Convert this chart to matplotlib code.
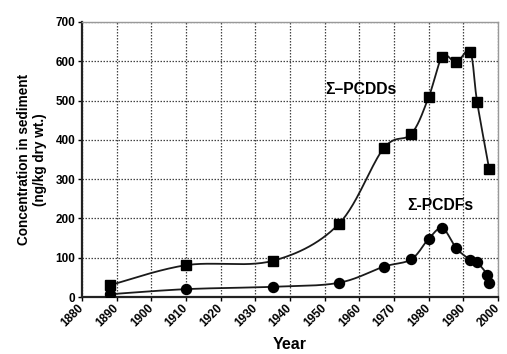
import matplotlib
matplotlib.use('Agg')
import matplotlib.pyplot as plt
import numpy as np

# Data
pcdd_years = [1888, 1910, 1935, 1954, 1967, 1975, 1980, 1984, 1988, 1992, 1994, 1997.5]
pcdd_vals = [30, 81, 92, 185, 378, 415, 508, 612, 597, 624, 497, 325]

pcdf_years = [1888, 1910, 1935, 1954, 1967, 1975, 1980, 1984, 1988, 1992, 1994, 1997, 1997.5]
pcdf_vals = [7, 20, 26, 36, 77, 96, 148, 175, 124, 95, 88, 56, 35]

x_ticks = list(range(1880, 2001, 10))
y_ticks = list(range(0, 701, 100))


def smooth(xs, ys, sx, sy, n=30):
    # Excel-like smoothed line (Catmull-Rom as cubic Bezier), computed in pixel-ish units
    px = np.asarray(xs, float) * sx
    py = np.asarray(ys, float) * sy
    pts = np.column_stack([px, py])
    out = [pts[0]]
    t = np.linspace(0, 1, n)[1:]
    for i in range(len(pts) - 1):
        p0 = pts[i - 1] if i > 0 else pts[i]
        p1 = pts[i]
        p2 = pts[i + 1]
        p3 = pts[i + 2] if i + 2 < len(pts) else pts[i + 1]
        c1 = p1 + (p2 - p0) / 6.0
        c2 = p2 - (p3 - p1) / 6.0
        seg = ((1 - t) ** 3)[:, None] * p1 + (3 * (1 - t) ** 2 * t)[:, None] * c1 \
            + (3 * (1 - t) * t ** 2)[:, None] * c2 + (t ** 3)[:, None] * p2
        out.extend(seg)
    out = np.array(out)
    return out[:, 0] / sx, out[:, 1] / sy


plt.rcParams['font.family'] = ['Liberation Sans', 'DejaVu Sans']
plt.rcParams['font.weight'] = 'bold'

fig = plt.figure(figsize=(5.07, 3.54), dpi=100)
fig.patch.set_facecolor('white')
ax = fig.add_axes([0.162, 0.161, 0.82, 0.777])

sx = 416 / 120.0
sy = 275 / 700.0

lx, ly = smooth(pcdd_years, pcdd_vals, sx, sy)
ax.plot(lx, ly, color='#1a1a1a', lw=1.3, zorder=3)
ax.plot(pcdd_years, pcdd_vals, ls='none', marker='s', ms=7.2, color='black', zorder=4)

lx, ly = smooth(pcdf_years, pcdf_vals, sx, sy)
ax.plot(lx, ly, color='#1a1a1a', lw=1.3, zorder=3)
ax.plot(pcdf_years, pcdf_vals, ls='none', marker='o', ms=7.2, color='black', zorder=4)

ax.set_xlim(1880, 2000)
ax.set_ylim(0, 700)
ax.set_xticks(x_ticks)
ax.set_yticks(y_ticks)
ax.grid(True, ls=(0, (1.2, 1.2)), color='#444444', lw=0.9)
ax.set_axisbelow(True)

ax.tick_params(axis='both', labelsize=8.5, length=3, width=1, pad=2)
ax.tick_params(axis='x', pad=4)
for lab in ax.get_xticklabels():
    lab.set_rotation(45)
    lab.set_ha('right')
    lab.set_va('center')
    lab.set_rotation_mode('anchor')
    lab.set_fontweight('bold')
for lab in ax.get_yticklabels():
    lab.set_fontweight('bold')

for side in ['left', 'bottom']:
    ax.spines[side].set_linewidth(1.6)
    ax.spines[side].set_color('#222222')
for side in ['top', 'right']:
    ax.spines[side].set_linewidth(1.0)
    ax.spines[side].set_color('#999999')

ax.set_ylabel('Concentration in sediment\n(ng/kg dry wt.)', fontsize=9.8, fontweight='bold', labelpad=6)
ax.set_xlabel('Year', fontsize=11.5, fontweight='bold', labelpad=5)

ax.text(1950.2, 529, '\u03a3\u2013PCDDs', fontsize=11.3, fontweight='bold', va='center', ha='left')
ax.text(1973.8, 232, '\u03a3-PCDFs', fontsize=11.3, fontweight='bold', va='center', ha='left')

plt.savefig('out.png', dpi=100)
